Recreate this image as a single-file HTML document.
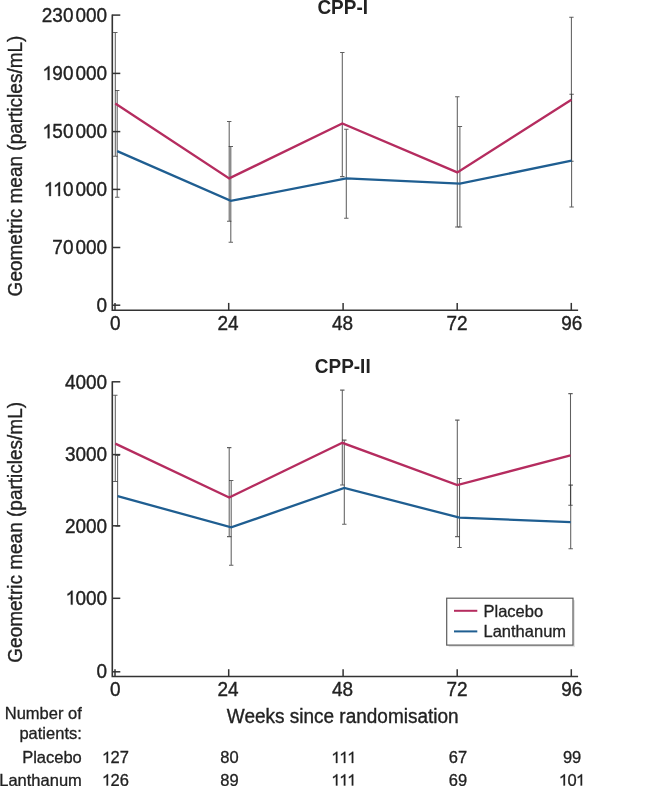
<!DOCTYPE html>
<html><head><meta charset="utf-8">
<style>
html,body{margin:0;padding:0;background:#fff;width:661px;height:786px;overflow:hidden}
svg{display:block;will-change:transform}
.t{font-family:"Liberation Sans",sans-serif;font-size:19px;fill:#222;stroke:#222;stroke-width:0.35px}
.s{font-family:"Liberation Sans",sans-serif;font-size:16.5px;fill:#222;stroke:#222;stroke-width:0.3px}
.b{font-family:"Liberation Sans",sans-serif;font-size:19px;font-weight:bold;fill:#222}
</style></head><body>
<svg width="661" height="786" viewBox="0 0 661 786">
<path d="M112.3 14.6 V310.2 H578.1" fill="none" stroke="#333" stroke-width="1.6"/>
<line x1="112.3" y1="15.1" x2="120.3" y2="15.1" stroke="#333" stroke-width="1.5"/>
<text transform="translate(0 21.7) scale(1 1.06)" class="t"><tspan x="41.80">2</tspan><tspan x="52.37">3</tspan><tspan x="62.93">0</tspan><tspan x="75.50">0</tspan><tspan x="86.07">0</tspan><tspan x="96.63">0</tspan></text>
<line x1="112.3" y1="73.4" x2="120.3" y2="73.4" stroke="#333" stroke-width="1.5"/>
<text transform="translate(0 80.0) scale(1 1.06)" class="t"><tspan x="52.37">9</tspan><tspan x="62.93">0</tspan><tspan x="75.50">0</tspan><tspan x="86.07">0</tspan><tspan x="96.63">0</tspan></text><path transform="translate(42.94 80.0) scale(0.00928 -0.00983)" d="M700 0H520V1137Q455 1075 350 1013Q245 951 161 920V1094Q312 1165 425 1266Q538 1367 585 1409H700Z" fill="#222" stroke="#222" stroke-width="37.7"/>
<line x1="112.3" y1="131.6" x2="120.3" y2="131.6" stroke="#333" stroke-width="1.5"/>
<text transform="translate(0 138.2) scale(1 1.06)" class="t"><tspan x="52.37">5</tspan><tspan x="62.93">0</tspan><tspan x="75.50">0</tspan><tspan x="86.07">0</tspan><tspan x="96.63">0</tspan></text><path transform="translate(42.94 138.2) scale(0.00928 -0.00983)" d="M700 0H520V1137Q455 1075 350 1013Q245 951 161 920V1094Q312 1165 425 1266Q538 1367 585 1409H700Z" fill="#222" stroke="#222" stroke-width="37.7"/>
<line x1="112.3" y1="189.4" x2="120.3" y2="189.4" stroke="#333" stroke-width="1.5"/>
<text transform="translate(0 196.0) scale(1 1.06)" class="t"><tspan x="62.93">0</tspan><tspan x="75.50">0</tspan><tspan x="86.07">0</tspan><tspan x="96.63">0</tspan></text><path transform="translate(44.36 196.0) scale(0.00928 -0.00983)" d="M700 0H520V1137Q455 1075 350 1013Q245 951 161 920V1094Q312 1165 425 1266Q538 1367 585 1409H700Z" fill="#222" stroke="#222" stroke-width="37.7"/><path transform="translate(53.51 196.0) scale(0.00928 -0.00983)" d="M700 0H520V1137Q455 1075 350 1013Q245 951 161 920V1094Q312 1165 425 1266Q538 1367 585 1409H700Z" fill="#222" stroke="#222" stroke-width="37.7"/>
<line x1="112.3" y1="247.5" x2="120.3" y2="247.5" stroke="#333" stroke-width="1.5"/>
<text transform="translate(0 254.1) scale(1 1.06)" class="t"><tspan x="52.37">7</tspan><tspan x="62.93">0</tspan><tspan x="75.50">0</tspan><tspan x="86.07">0</tspan><tspan x="96.63">0</tspan></text>
<line x1="112.3" y1="305.2" x2="120.3" y2="305.2" stroke="#333" stroke-width="1.5"/>
<text transform="translate(0 311.8) scale(1 1.06)" class="t"><tspan x="96.63">0</tspan></text>
<line x1="115" y1="302.9" x2="115" y2="310.2" stroke="#333" stroke-width="1.5"/>
<text transform="translate(115.35 329.59999999999997) scale(1 1.06)" text-anchor="middle" class="t">0</text>
<line x1="228.7" y1="302.9" x2="228.7" y2="310.2" stroke="#333" stroke-width="1.5"/>
<text transform="translate(228.05 329.59999999999997) scale(1 1.06)" text-anchor="middle" class="t">24</text>
<line x1="343.1" y1="302.9" x2="343.1" y2="310.2" stroke="#333" stroke-width="1.5"/>
<text transform="translate(342.5 329.59999999999997) scale(1 1.06)" text-anchor="middle" class="t">48</text>
<line x1="457.2" y1="302.9" x2="457.2" y2="310.2" stroke="#333" stroke-width="1.5"/>
<text transform="translate(457.1 329.59999999999997) scale(1 1.06)" text-anchor="middle" class="t">72</text>
<line x1="571.3" y1="302.9" x2="571.3" y2="310.2" stroke="#333" stroke-width="1.5"/>
<text transform="translate(571.85 329.59999999999997) scale(1 1.06)" text-anchor="middle" class="t">96</text>
<path d="M115.3 32.4 V156.2 M113.1 32.4 H117.5 M113.1 156.2 H117.5" stroke="#333" stroke-opacity="0.78" stroke-width="1.05" fill="none"/>
<path d="M229.2 121.5 V221.2 M227.0 121.5 H231.39999999999998 M227.0 221.2 H231.39999999999998" stroke="#333" stroke-opacity="0.78" stroke-width="1.05" fill="none"/>
<path d="M342.3 52.4 V176.6 M340.1 52.4 H344.5 M340.1 176.6 H344.5" stroke="#333" stroke-opacity="0.78" stroke-width="1.05" fill="none"/>
<path d="M457.3 96.7 V227 M455.1 96.7 H459.5 M455.1 227 H459.5" stroke="#333" stroke-opacity="0.78" stroke-width="1.05" fill="none"/>
<path d="M571.4 17.3 V161.2 M569.1999999999999 17.3 H573.6 M569.1999999999999 161.2 H573.6" stroke="#333" stroke-opacity="0.78" stroke-width="1.05" fill="none"/>
<path d="M117.2 90.5 V197.2 M115.0 90.5 H119.4 M115.0 197.2 H119.4" stroke="#333" stroke-opacity="0.78" stroke-width="1.05" fill="none"/>
<path d="M230.8 146.4 V242.2 M228.60000000000002 146.4 H233.0 M228.60000000000002 242.2 H233.0" stroke="#333" stroke-opacity="0.78" stroke-width="1.05" fill="none"/>
<path d="M346.3 129.2 V218.3 M344.1 129.2 H348.5 M344.1 218.3 H348.5" stroke="#333" stroke-opacity="0.78" stroke-width="1.05" fill="none"/>
<path d="M459.9 126.5 V227 M457.7 126.5 H462.09999999999997 M457.7 227 H462.09999999999997" stroke="#333" stroke-opacity="0.78" stroke-width="1.05" fill="none"/>
<path d="M571.6 94.3 V206.9 M569.4 94.3 H573.8000000000001 M569.4 206.9 H573.8000000000001" stroke="#333" stroke-opacity="0.78" stroke-width="1.05" fill="none"/>
<polyline points="115.3,103.5 229.2,178.4 342.3,123.5 457.3,172.4 571.4,99.8" fill="none" stroke="#b52c5f" stroke-width="2.3" stroke-linejoin="miter"/>
<polyline points="117.2,151.1 230.8,200.9 346.3,178.4 459.9,183.7 571.6,160.6" fill="none" stroke="#1f5e91" stroke-width="2.3" stroke-linejoin="miter"/>
<text transform="translate(342.7 13.6) scale(1 1.06)" text-anchor="middle" class="b">CPP-I</text>
<text transform="translate(22.3 166.0) rotate(-90) scale(1 1.02)" text-anchor="middle" class="t">Geometric mean (particles/mL)</text>
<path d="M112.3 381.3 V676.5 H578.1" fill="none" stroke="#333" stroke-width="1.6"/>
<line x1="112.3" y1="381.8" x2="120.3" y2="381.8" stroke="#333" stroke-width="1.5"/>
<text transform="translate(0 389.1) scale(1 1.06)" class="t"><tspan x="64.93">4</tspan><tspan x="75.50">0</tspan><tspan x="86.07">0</tspan><tspan x="96.63">0</tspan></text>
<line x1="112.3" y1="454.6" x2="120.3" y2="454.6" stroke="#333" stroke-width="1.5"/>
<text transform="translate(0 461.30000000000007) scale(1 1.06)" class="t"><tspan x="64.93">3</tspan><tspan x="75.50">0</tspan><tspan x="86.07">0</tspan><tspan x="96.63">0</tspan></text>
<line x1="112.3" y1="525.8" x2="120.3" y2="525.8" stroke="#333" stroke-width="1.5"/>
<text transform="translate(0 533.1) scale(1 1.06)" class="t"><tspan x="64.93">2</tspan><tspan x="75.50">0</tspan><tspan x="86.07">0</tspan><tspan x="96.63">0</tspan></text>
<line x1="112.3" y1="598.3" x2="120.3" y2="598.3" stroke="#333" stroke-width="1.5"/>
<text transform="translate(0 604.6) scale(1 1.06)" class="t"><tspan x="75.50">0</tspan><tspan x="86.07">0</tspan><tspan x="96.63">0</tspan></text><path transform="translate(66.07 604.6) scale(0.00928 -0.00983)" d="M700 0H520V1137Q455 1075 350 1013Q245 951 161 920V1094Q312 1165 425 1266Q538 1367 585 1409H700Z" fill="#222" stroke="#222" stroke-width="37.7"/>
<line x1="112.3" y1="671.8" x2="120.3" y2="671.8" stroke="#333" stroke-width="1.5"/>
<text transform="translate(0 678.1) scale(1 1.06)" class="t"><tspan x="96.63">0</tspan></text>
<line x1="115" y1="669.2" x2="115" y2="676.5" stroke="#333" stroke-width="1.5"/>
<text transform="translate(115.35 695.9) scale(1 1.06)" text-anchor="middle" class="t">0</text>
<line x1="228.7" y1="669.2" x2="228.7" y2="676.5" stroke="#333" stroke-width="1.5"/>
<text transform="translate(228.05 695.9) scale(1 1.06)" text-anchor="middle" class="t">24</text>
<line x1="343.1" y1="669.2" x2="343.1" y2="676.5" stroke="#333" stroke-width="1.5"/>
<text transform="translate(342.5 695.9) scale(1 1.06)" text-anchor="middle" class="t">48</text>
<line x1="457.2" y1="669.2" x2="457.2" y2="676.5" stroke="#333" stroke-width="1.5"/>
<text transform="translate(457.1 695.9) scale(1 1.06)" text-anchor="middle" class="t">72</text>
<line x1="571.3" y1="669.2" x2="571.3" y2="676.5" stroke="#333" stroke-width="1.5"/>
<text transform="translate(571.85 695.9) scale(1 1.06)" text-anchor="middle" class="t">96</text>
<path d="M115.3 395.3 V481.5 M113.1 395.3 H117.5 M113.1 481.5 H117.5" stroke="#333" stroke-opacity="0.78" stroke-width="1.05" fill="none"/>
<path d="M229.2 447.6 V536.6 M227.0 447.6 H231.39999999999998 M227.0 536.6 H231.39999999999998" stroke="#333" stroke-opacity="0.78" stroke-width="1.05" fill="none"/>
<path d="M342.3 390.1 V485.0 M340.1 390.1 H344.5 M340.1 485.0 H344.5" stroke="#333" stroke-opacity="0.78" stroke-width="1.05" fill="none"/>
<path d="M457.3 420.1 V536.6 M455.1 420.1 H459.5 M455.1 536.6 H459.5" stroke="#333" stroke-opacity="0.78" stroke-width="1.05" fill="none"/>
<path d="M570.5 393.6 V505.3 M568.3 393.6 H572.7 M568.3 505.3 H572.7" stroke="#333" stroke-opacity="0.78" stroke-width="1.05" fill="none"/>
<path d="M117.6 455.4 V526.1 M115.39999999999999 455.4 H119.8 M115.39999999999999 526.1 H119.8" stroke="#333" stroke-opacity="0.78" stroke-width="1.05" fill="none"/>
<path d="M231.2 480.5 V565.2 M229.0 480.5 H233.39999999999998 M229.0 565.2 H233.39999999999998" stroke="#333" stroke-opacity="0.78" stroke-width="1.05" fill="none"/>
<path d="M344.3 440.1 V524.3 M342.1 440.1 H346.5 M342.1 524.3 H346.5" stroke="#333" stroke-opacity="0.78" stroke-width="1.05" fill="none"/>
<path d="M459.5 478.4 V547.5 M457.3 478.4 H461.7 M457.3 547.5 H461.7" stroke="#333" stroke-opacity="0.78" stroke-width="1.05" fill="none"/>
<path d="M570.7 485.1 V548.8 M568.5 485.1 H572.9000000000001 M568.5 548.8 H572.9000000000001" stroke="#333" stroke-opacity="0.78" stroke-width="1.05" fill="none"/>
<polyline points="115.3,443.6 229.2,497.5 342.3,442.8 457.3,485.0 570.5,455.4" fill="none" stroke="#b52c5f" stroke-width="2.3" stroke-linejoin="miter"/>
<polyline points="117.6,496.1 231.2,527.4 344.3,487.9 459.5,517.7 570.7,522.1" fill="none" stroke="#1f5e91" stroke-width="2.3" stroke-linejoin="miter"/>
<text transform="translate(342.7 373.0) scale(1 1.06)" text-anchor="middle" class="b">CPP-II</text>
<text transform="translate(22.3 532.3) rotate(-90) scale(1 1.02)" text-anchor="middle" class="t">Geometric mean (particles/mL)</text>

<rect x="448.7" y="600.2" width="126.3" height="46.9" fill="#e4e4e4" stroke="none"/>
<rect x="446.7" y="598.2" width="126.3" height="46.9" fill="#fff" stroke="#5c5c5c" stroke-width="1.2"/>
<line x1="454" y1="610.8" x2="477.3" y2="610.8" stroke="#b52c5f" stroke-width="2"/>
<line x1="454" y1="631.4" x2="477.3" y2="631.4" stroke="#1f5e91" stroke-width="2"/>
<text x="483.5" y="616.5" class="s">Placebo</text>
<text x="483.5" y="637.2" class="s">Lanthanum</text>

<text transform="translate(342.7 722.7) scale(1 1.06)" text-anchor="middle" class="t">Weeks since randomisation</text>

<text x="81.8" y="719" text-anchor="end" class="s">Number of</text>
<text x="81.8" y="739.2" text-anchor="end" class="s">patients:</text>
<text x="81.8" y="763" text-anchor="end" class="s">Placebo</text>
<text x="81.8" y="785.6" text-anchor="end" class="s">Lanthanum</text>
<text transform="translate(0 763) scale(1 1.0)" class="s"><tspan x="110.59">2</tspan><tspan x="119.77">7</tspan></text><path transform="translate(102.41 763) scale(0.00806 -0.00806)" d="M700 0H520V1137Q455 1075 350 1013Q245 951 161 920V1094Q312 1165 425 1266Q538 1367 585 1409H700Z" fill="#222" stroke="#222" stroke-width="37.2"/>
<text transform="translate(0 785.6) scale(1 1.0)" class="s"><tspan x="110.59">2</tspan><tspan x="119.77">6</tspan></text><path transform="translate(102.41 785.6) scale(0.00806 -0.00806)" d="M700 0H520V1137Q455 1075 350 1013Q245 951 161 920V1094Q312 1165 425 1266Q538 1367 585 1409H700Z" fill="#222" stroke="#222" stroke-width="37.2"/>
<text transform="translate(0 763) scale(1 1.0)" class="s"><tspan x="220.32">8</tspan><tspan x="229.50">0</tspan></text>
<text transform="translate(0 785.6) scale(1 1.0)" class="s"><tspan x="220.32">8</tspan><tspan x="229.50">9</tspan></text>
<path transform="translate(331.74 763) scale(0.00806 -0.00806)" d="M700 0H520V1137Q455 1075 350 1013Q245 951 161 920V1094Q312 1165 425 1266Q538 1367 585 1409H700Z" fill="#222" stroke="#222" stroke-width="37.2"/><path transform="translate(339.68 763) scale(0.00806 -0.00806)" d="M700 0H520V1137Q455 1075 350 1013Q245 951 161 920V1094Q312 1165 425 1266Q538 1367 585 1409H700Z" fill="#222" stroke="#222" stroke-width="37.2"/><path transform="translate(347.62 763) scale(0.00806 -0.00806)" d="M700 0H520V1137Q455 1075 350 1013Q245 951 161 920V1094Q312 1165 425 1266Q538 1367 585 1409H700Z" fill="#222" stroke="#222" stroke-width="37.2"/>
<path transform="translate(331.74 785.6) scale(0.00806 -0.00806)" d="M700 0H520V1137Q455 1075 350 1013Q245 951 161 920V1094Q312 1165 425 1266Q538 1367 585 1409H700Z" fill="#222" stroke="#222" stroke-width="37.2"/><path transform="translate(339.68 785.6) scale(0.00806 -0.00806)" d="M700 0H520V1137Q455 1075 350 1013Q245 951 161 920V1094Q312 1165 425 1266Q538 1367 585 1409H700Z" fill="#222" stroke="#222" stroke-width="37.2"/><path transform="translate(347.62 785.6) scale(0.00806 -0.00806)" d="M700 0H520V1137Q455 1075 350 1013Q245 951 161 920V1094Q312 1165 425 1266Q538 1367 585 1409H700Z" fill="#222" stroke="#222" stroke-width="37.2"/>
<text transform="translate(0 763) scale(1 1.0)" class="s"><tspan x="448.82">6</tspan><tspan x="458.00">7</tspan></text>
<text transform="translate(0 785.6) scale(1 1.0)" class="s"><tspan x="448.82">6</tspan><tspan x="458.00">9</tspan></text>
<text transform="translate(0 763) scale(1 1.0)" class="s"><tspan x="562.92">9</tspan><tspan x="572.10">9</tspan></text>
<text transform="translate(0 785.6) scale(1 1.0)" class="s"><tspan x="567.51">0</tspan></text><path transform="translate(559.33 785.6) scale(0.00806 -0.00806)" d="M700 0H520V1137Q455 1075 350 1013Q245 951 161 920V1094Q312 1165 425 1266Q538 1367 585 1409H700Z" fill="#222" stroke="#222" stroke-width="37.2"/><path transform="translate(576.44 785.6) scale(0.00806 -0.00806)" d="M700 0H520V1137Q455 1075 350 1013Q245 951 161 920V1094Q312 1165 425 1266Q538 1367 585 1409H700Z" fill="#222" stroke="#222" stroke-width="37.2"/>

</svg>
</body></html>
